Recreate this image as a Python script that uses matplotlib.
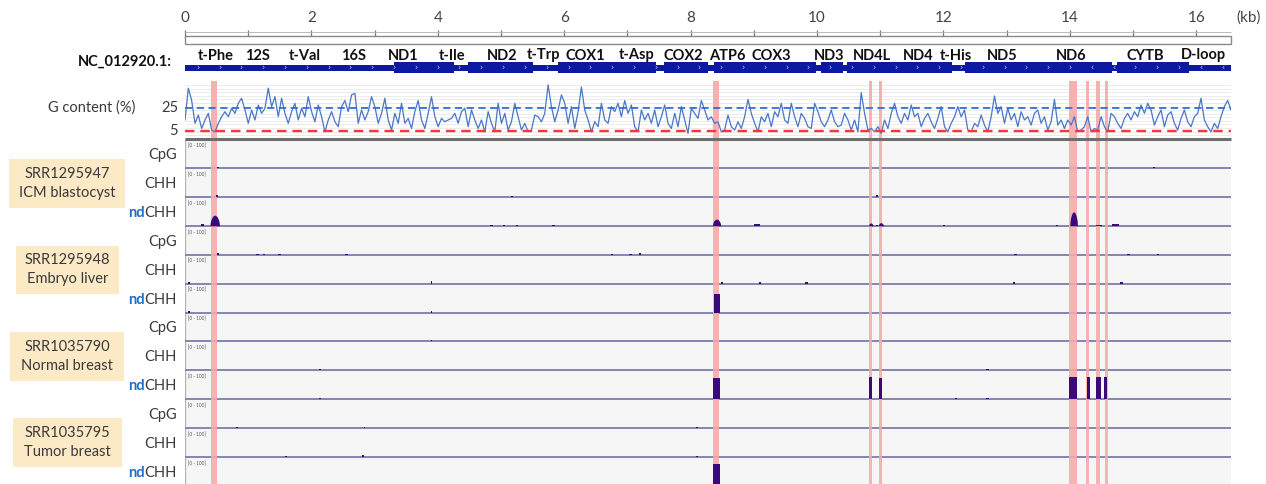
import numpy as np
import matplotlib
matplotlib.use("Agg")
import matplotlib.pyplot as plt
from matplotlib.patches import Rectangle

# ---------------- data ----------------
KB_MAX = 16.55
ruler_ticks = list(range(0, 17))
ruler_labels = list(range(0, 17, 2))

gene_names = ["t-Phe", "12S", "t-Val", "16S", "ND1", "t-Ile", "ND2", "t-Trp", "COX1", "t-Asp",
              "COX2", "ATP6", "COX3", "ND3", "ND4L", "ND4", "t-His", "ND5", "ND6", "CYTB", "D-loop"]
gene_label_kb = [0.49, 1.14, 1.89, 2.67, 3.45, 4.22, 5.02, 5.68, 6.34, 7.15,
                 7.89, 8.58, 9.28, 10.19, 10.87, 11.6, 12.19, 12.93, 14.02, 15.2, 16.11]
coding_start = [3.307, 4.470, 5.904, 7.586, 8.366, 9.207, 10.059, 10.470, 10.760, 12.337, 14.149, 14.747]
coding_end = [4.262, 5.511, 7.445, 8.269, 9.207, 9.990, 10.404, 10.766, 12.137, 14.148, 14.673, 15.887]
reverse_regions = [(14.15, 14.7), (15.95, 16.55)]

g_content = [
    14.6, 43, 32, 11.6, 19, 7, 14.6, 20.5, 5.6, 4, 11.6, 17.5, 22, 17.5, 25, 20.5, 29.5, 34, 23.5, 11.6,
    23.5, 14.6, 28, 20.5, 25, 43, 26.5, 35.4, 17.5, 34, 20.5, 11.6, 22, 29.5, 14.6, 25, 17.5, 35.4, 22, 13,
    28, 17.5, 4, 14.6, 22, 13, 8.6, 26.5, 32, 22, 37, 38.4, 11.6, 23.5, 14.6, 22, 35.4, 26.5, 11.6, 20.5,
    34, 14.6, 5.6, 20.5, 11.6, 29.5, 11.6, 16, 7, 22, 32, 14.6, 7, 20.5, 35.4, 17.5, 8.6, 16, 13, 14.6,
    16, 20.5, 11.6, 22, 25, 8.6, 23.5, 14.6, 7, 14.6, 4, 22, 11.6, 4, 29.5, 11.6, 20.5, 5.6, 13, 29.5,
    17.5, 5.6, 11.6, 4, 5.6, 19, 17.5, 13, 20.5, 46, 26.5, 13, 23.5, 37, 29.5, 11.6, 26.5, 7, 22, 44,
    23.5, 14.6, 4, 13, 8.6, 29.5, 14.6, 11.6, 26.5, 22, 29.5, 17.5, 32, 20.5, 28, 8.6, 4, 23.5, 14.6, 20.5,
    11.6, 23.5, 8.6, 17.5, 28, 11.6, 7, 20.5, 8.6, 26.5, 14.6, 2.6, 25, 20.5, 16, 32, 23.5, 14.6, 17.5, 11.6,
    13, 4, 5.6, 19, 8.6, 5.6, 13, 7, 17.5, 33, 20.5, 11.6, 4, 17.5, 13, 20.5, 8.6, 22, 17.5, 29.5,
    14.6, 11.6, 29.5, 17.5, 8.6, 20.5, 16, 8.6, 7, 29.5, 22, 13, 8.6, 14.6, 23.5, 13, 8.6, 10, 20.5, 14.6,
    5.6, 14.6, 4, 39, 20.5, 5.6, 7, 4, 8.6, 2.6, 14.6, 7, 20.5, 29.5, 17.5, 11.6, 20.5, 14.6, 28, 17.5,
    20.5, 8.6, 16, 20.5, 13, 7, 16, 26.5, 8.6, 4, 11.6, 17.5, 26.5, 17.5, 23.5, 5.6, 4, 11.6, 8.6, 19,
    10, 4, 17.5, 36, 20.5, 26.5, 11.6, 25, 14.6, 20.5, 8.6, 22, 14.6, 17.5, 10, 20.5, 23.5, 11.6, 17.5, 5.6,
    13, 33, 10, 14.6, 7, 14.6, 10, 17.5, 4, 5.6, 8.6, 17.5, 4, 7, 5.6, 17.5, 8.6, 4, 20.5, 17.5,
    11.6, 7, 16, 20.5, 14.6, 22, 17.5, 28, 20.5, 29.5, 23.5, 10, 17.5, 23.5, 8.6, 19, 22, 11.6, 5.6, 16,
    23.5, 13, 8.6, 17.5, 20.5, 34, 14.6, 8.6, 4, 11.6, 7, 17.5, 26.5, 32, 23.5]
g_ref_high = 25
g_ref_low = 5
g_ticks = [25, 5]

samples = [("SRR1295947", "ICM blastocyst"), ("SRR1295948", "Embryo liver"),
           ("SRR1035790", "Normal breast"), ("SRR1035795", "Tumor breast")]
contexts = ["CpG", "CHH", "ndCHH"]

highlight_start = [0.405, 8.36, 10.82, 10.98, 13.99, 14.26, 14.42, 14.55]
highlight_end = [0.505, 8.45, 10.87, 11.03, 14.11, 14.31, 14.48, 14.60]

# peaks per track: positions (kb), heights (% of 0-100), widths (kb)
peak_pos = [
    [0.52, 15.33],
    [0.50, 5.17, 10.95],
    [0.28, 0.47, 4.85, 5.05, 5.25, 5.83, 8.41, 9.05, 10.85, 10.95, 11.01, 12.01, 13.80, 14.06, 14.46, 14.73],
    [0.52, 1.15, 1.25, 1.50, 2.55, 6.75, 7.05, 7.20, 13.14, 14.93, 15.40],
    [0.07, 3.90, 8.50, 9.10, 9.83, 13.12, 14.82],
    [0.07, 3.90, 8.42],
    [3.90],
    [2.14, 12.20, 12.70],
    [2.14, 8.41, 10.85, 11.00, 12.20, 12.70, 14.05, 14.29, 14.46, 14.57],
    [0.82, 2.84, 8.10],
    [1.60, 2.82, 8.10],
    [8.41],
]
peak_height = [
    [5, 5],
    [5, 4, 5],
    [5, 38, 4, 4, 4, 4, 24, 6, 10, 4, 11, 4, 4, 50, 4, 8],
    [5, 4, 4, 4, 4, 4, 4, 5, 4, 4, 4],
    [4, 10, 4, 4, 4, 4, 4],
    [4, 6, 68],
    [4],
    [4, 3, 4],
    [4, 77, 81, 76, 3, 4, 82, 80, 80, 80],
    [4, 4, 4],
    [4, 7, 4],
    [80],
]
peak_width = [
    [0.03, 0.04],
    [0.03, 0.03, 0.03],
    [0.05, 0.15, 0.04, 0.04, 0.04, 0.05, 0.13, 0.11, 0.07, 0.03, 0.08, 0.04, 0.04, 0.12, 0.09, 0.11],
    [0.03, 0.04, 0.04, 0.05, 0.05, 0.03, 0.04, 0.04, 0.05, 0.04, 0.03],
    [0.03, 0.03, 0.03, 0.03, 0.04, 0.04, 0.05],
    [0.03, 0.03, 0.10],
    [0.03],
    [0.03, 0.03, 0.04],
    [0.03, 0.11, 0.05, 0.05, 0.03, 0.04, 0.12, 0.05, 0.08, 0.05],
    [0.03, 0.03, 0.03],
    [0.03, 0.04, 0.03],
    [0.10],
]
track_shape = ["bump"] * 3 + ["block"] * 9

# ---------------- layout ----------------
W, H = 1266, 484
fig = plt.figure(figsize=(W / 100, H / 100), dpi=100)
plt.rcParams['font.family'] = ['Lato', 'DejaVu Sans']
X0, X1 = 185, 1231
TXT = '#3a3a3a'


def add_ax(x0, y0, x1, y1, z=1):
    a = fig.add_axes([x0 / W, 1 - y1 / H, (x1 - x0) / W, (y1 - y0) / H], zorder=z)
    a.set_axis_off()
    return a


# overlay for labels in pixel coordinates
ov = fig.add_axes([0, 0, 1, 1], zorder=5)
ov.set_xlim(0, W)
ov.set_ylim(H, 0)
ov.set_axis_off()
ov.patch.set_alpha(0)

# ---- ruler ----
ar = add_ax(X0 - 10, 8, X1 + 10, 47)
ar.set_xlim(-10 / 63.2, KB_MAX + 10 / 63.2)
ar.set_ylim(47, 8)
ar.vlines(ruler_ticks, 30, 36, color='#7a7a7a', lw=0.9)
ar.add_patch(Rectangle((0, 36), KB_MAX, 8, fill=False, edgecolor='#8a8a8a', lw=1.0))
ar.hlines(32, 0, KB_MAX, color='#b0b0b0', lw=0.6)
for k in ruler_labels:
    ar.text(k, 18, str(k), ha='center', va='center', fontsize=11, color='#444444')
ov.text(1249, 18, "(kb)", ha='center', va='center', fontsize=11, color='#444444')

# ---- gene track ----
ag = add_ax(X0, 47, X1, 80)
ag.set_xlim(0, KB_MAX)
ag.set_ylim(80, 47)
gene_col = '#0b1aa0'
ag.add_patch(Rectangle((0, 64.5), KB_MAX, 6.5, color=gene_col, lw=0))
for s, e in zip(coding_start, coding_end):
    ag.add_patch(Rectangle((s, 62.3), e - s, 10.7, color=gene_col, lw=0))
for c in np.arange(0.2, KB_MAX, 0.345):
    rev = any(a <= c <= b for a, b in reverse_regions)
    ag.text(c, 67.8, '\u2039' if rev else '\u203a', ha='center', va='center',
            fontsize=5.5, color='#c8c8ff', family='DejaVu Sans')
for name, pos in zip(gene_names, gene_label_kb):
    ag.text(pos, 55.5, name, ha='center', va='center', fontsize=10.5, fontweight='bold', color='#111111')
ov.text(172, 62, "NC_012920.1:", ha='right', va='center', fontsize=10.5, fontweight='bold', color='#111111')

# ---- G content track ----
GY0, GY1 = 81, 139
ac = add_ax(X0, GY0, X1, GY1, z=1)
ac.set_xlim(0, KB_MAX)
ac.set_ylim(-2.4, 49.4)
ac.hlines(np.arange(1, 49, 3.2), 0, KB_MAX, color='#ececec', lw=0.7, zorder=0)
for s, e in zip(highlight_start, highlight_end):
    ac.axvspan(s, e, color='#f8a9a9', alpha=0.9, lw=0, zorder=1)
gx = np.linspace(0, KB_MAX, len(g_content))
ac.plot(gx, g_content, color='#4a76c8', lw=0.9, zorder=3)
ac.axhline(g_ref_high, color='#2f6fd6', ls=(0, (4, 2.5)), lw=1.3, zorder=4)
ac.axhline(g_ref_low, color='#ff3434', ls=(0, (4, 2.5)), lw=1.7, zorder=4)
ov.text(92, 108, "G content (%)", ha='center', va='center', fontsize=10.5, color=TXT)
for t in g_ticks:
    ypix = GY1 - (t + 2.4) / (49.4 + 2.4) * (GY1 - GY0)
    ov.text(178, ypix, str(t), ha='right', va='center', fontsize=10.5, color=TXT)

# ---- methylation tracks ----
TY0, TH = 139, 28.92
at = add_ax(X0, TY0, X1, TY0 + 12 * TH, z=1)
at.set_axis_on()
for sp in at.spines.values():
    sp.set_visible(False)
at.set_xticks([])
at.set_yticks([])
at.set_xlim(0, KB_MAX)
at.set_ylim(12, 0)
at.set_facecolor('#f6f6f6')
at.axvline(0, color='#b5b5b5', lw=1.0)
for i in range(12):
    at.axhline(i + 1, color='#7c7caa', lw=1.3, zorder=2)
    at.text(0.05, i + 0.13, "[0 - 100]", fontsize=3.3, color='#555555', va='top', ha='left')
for s, e in zip(highlight_start, highlight_end):
    at.axvspan(s, e, color='#f8a9a9', alpha=0.88, lw=0, zorder=3)
peak_col = '#3a0a7a'
scale = 0.96
for i in range(12):
    base = i + 1
    for p, h, w in zip(peak_pos[i], peak_height[i], peak_width[i]):
        hh = h / 100 * scale
        if track_shape[i] == "bump" and h > 8:
            xs = np.linspace(p - w / 2, p + w / 2, 40)
            ys = hh * np.clip(np.cos(np.pi * (xs - p) / w), 0, 1) ** 0.5
            at.fill_between(xs, base, base - ys, color=peak_col, lw=0, zorder=4)
        else:
            at.add_patch(Rectangle((p - w / 2, base - hh), w, hh, color=peak_col, lw=0, zorder=4))
ov.hlines(139, X0, X1, color='#6e6e6e', lw=2.2)

# track labels
LBL_X = 177
for i in range(12):
    yc = TY0 + i * TH + TH / 2 + 1.5
    ctx = contexts[i % 3]
    if ctx.startswith("nd"):
        t = ov.text(LBL_X, yc, ctx[2:], ha='right', va='center', fontsize=10.5, color=TXT)
        ov.annotate("nd", xy=(0, 0.5), xycoords=t, ha='right', va='center', fontsize=10.5,
                    fontweight='bold', color='#1f6fc4')
    else:
        ov.text(LBL_X, yc, ctx, ha='right', va='center', fontsize=10.5, color=TXT)

# sample boxes
boxes = [(9, 159, 125, 208), (16, 246, 119, 294), (10, 332, 124, 381), (13, 418, 122, 467)]
for (sid, desc), (x0, y0, x1, y1) in zip(samples, boxes):
    ov.add_patch(Rectangle((x0, y0), x1 - x0, y1 - y0, color='#fce9c6', lw=0))
    xc, yc = (x0 + x1) / 2, (y0 + y1) / 2
    ov.text(xc, yc - 9.5, sid, ha='center', va='center', fontsize=10.5, color=TXT)
    ov.text(xc, yc + 9.5, desc, ha='center', va='center', fontsize=10.5, color=TXT)

fig.savefig("out.png", dpi=100)
